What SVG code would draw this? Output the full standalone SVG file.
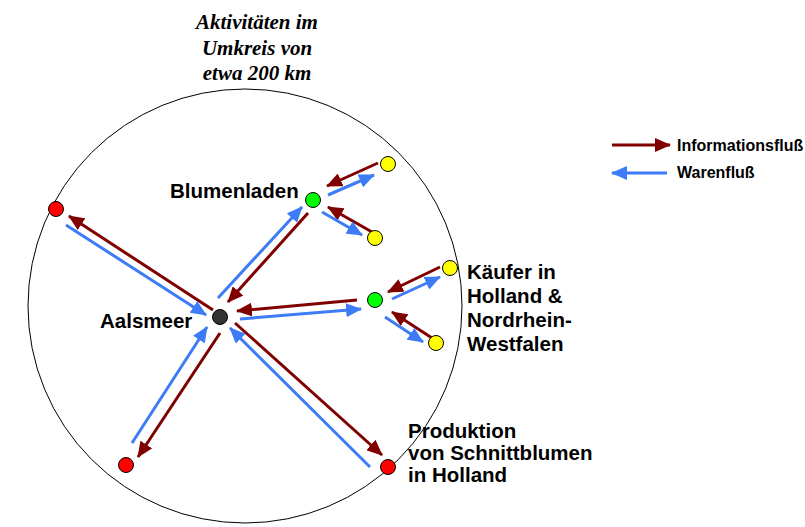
<svg xmlns="http://www.w3.org/2000/svg" width="805" height="527" viewBox="0 0 805 527">
<defs>
<style>
.info{stroke:#800000;stroke-width:3;fill:none}
.ware{stroke:#3d7bf7;stroke-width:3;fill:none}
.lbl{font-family:"Liberation Sans",Arial,sans-serif;font-weight:bold;font-size:20.5px;fill:#000}
.leg{font-family:"Liberation Sans",Arial,sans-serif;font-weight:bold;font-size:16px;fill:#000}
.title{font-family:"Liberation Serif","Times New Roman",serif;font-weight:bold;font-style:italic;font-size:21px;fill:#000}
.node{stroke:#000;stroke-width:1}
</style>
<marker id="ahR" markerUnits="userSpaceOnUse" markerWidth="16" markerHeight="14" viewBox="0 0 16 14" refX="15" refY="7" orient="auto">
<path d="M0,0 L16,7 L0,14 z" fill="#800000"/>
</marker>
<marker id="ahB" markerUnits="userSpaceOnUse" markerWidth="16" markerHeight="14" viewBox="0 0 16 14" refX="15" refY="7" orient="auto">
<path d="M0,0 L16,7 L0,14 z" fill="#3d7bf7"/>
</marker>
</defs>
<rect width="805" height="527" fill="#fff"/>
<g id="title">
<text class="title" x="257" y="29" text-anchor="middle">Aktivitäten im</text>
<text class="title" x="257" y="55" text-anchor="middle">Umkreis von</text>
<text class="title" x="257" y="80" text-anchor="middle">etwa 200 km</text>
</g>
<g id="region">
<circle cx="245" cy="306" r="217" fill="none" stroke="#000" stroke-width="1"/>
</g>
<g id="connectors">
<line class="ware" x1="218" y1="298" x2="302" y2="207" marker-end="url(#ahB)"/>
<line class="info" x1="308" y1="213" x2="228" y2="302" marker-end="url(#ahR)"/>
<line class="info" x1="357" y1="300" x2="237" y2="311" marker-end="url(#ahR)"/>
<line class="ware" x1="240" y1="319" x2="361" y2="309" marker-end="url(#ahB)"/>
<line class="info" x1="440" y1="267" x2="388" y2="292" marker-end="url(#ahR)"/>
<line class="ware" x1="392" y1="299" x2="440" y2="277" marker-end="url(#ahB)"/>
<line class="info" x1="432" y1="338" x2="392" y2="312" marker-end="url(#ahR)"/>
<line class="ware" x1="385" y1="317" x2="423" y2="342" marker-end="url(#ahB)"/>
<line class="info" x1="378" y1="163" x2="327" y2="186" marker-end="url(#ahR)"/>
<line class="ware" x1="328" y1="195" x2="374" y2="175" marker-end="url(#ahB)"/>
<line class="info" x1="372" y1="232" x2="328" y2="207" marker-end="url(#ahR)"/>
<line class="ware" x1="322" y1="212" x2="362" y2="235" marker-end="url(#ahB)"/>
<line class="info" x1="213" y1="310" x2="69" y2="216" marker-end="url(#ahR)"/>
<line class="ware" x1="66" y1="225" x2="206" y2="315" marker-end="url(#ahB)"/>
<line class="ware" x1="132" y1="443" x2="207" y2="327" marker-end="url(#ahB)"/>
<line class="info" x1="220" y1="333" x2="138" y2="457" marker-end="url(#ahR)"/>
<line class="info" x1="235" y1="323" x2="382" y2="455" marker-end="url(#ahR)"/>
<line class="ware" x1="370" y1="467" x2="230" y2="328" marker-end="url(#ahB)"/>
</g>
<g id="aalsmeer">
<circle class="node" cx="220" cy="317" r="7.5" fill="#333"/>
<text class="lbl" x="100" y="328">Aalsmeer</text>
</g>
<g id="blumenladen">
<circle class="node" cx="313" cy="200" r="7.5" fill="#00ff00"/>
<text class="lbl" x="170" y="198">Blumenladen</text>
</g>
<g id="kaeufer">
<circle class="node" cx="375" cy="300" r="7.5" fill="#00ff00"/>
<text class="lbl" x="467" y="279">Käufer in</text>
<text class="lbl" x="467" y="303">Holland &amp;</text>
<text class="lbl" x="467" y="327">Nordrhein-</text>
<text class="lbl" x="467" y="351">Westfalen</text>
</g>
<g id="yellow1"><circle class="node" cx="388" cy="164" r="7.5" fill="#ffff00"/></g>
<g id="yellow2"><circle class="node" cx="375" cy="238" r="7.5" fill="#ffff00"/></g>
<g id="yellow3"><circle class="node" cx="450" cy="268" r="7.5" fill="#ffff00"/></g>
<g id="yellow4"><circle class="node" cx="436" cy="343" r="7.5" fill="#ffff00"/></g>
<g id="red1"><circle class="node" cx="56" cy="209" r="7.5" fill="#ff0000"/></g>
<g id="red2"><circle class="node" cx="126" cy="465" r="7.5" fill="#ff0000"/></g>
<g id="produktion">
<circle class="node" cx="388" cy="467" r="7.5" fill="#ff0000"/>
<text class="lbl" x="408" y="438">Produktion</text>
<text class="lbl" x="408" y="460">von Schnittblumen</text>
<text class="lbl" x="408" y="482">in Holland</text>
</g>
<g id="legend">
<line class="info" x1="612" y1="145" x2="670" y2="145" marker-end="url(#ahR)"/>
<text class="leg" x="677" y="151">Informationsfluß</text>
<line class="ware" x1="667" y1="173" x2="612" y2="173" marker-end="url(#ahB)"/>
<text class="leg" x="677" y="178">Warenfluß</text>
</g>
</svg>
